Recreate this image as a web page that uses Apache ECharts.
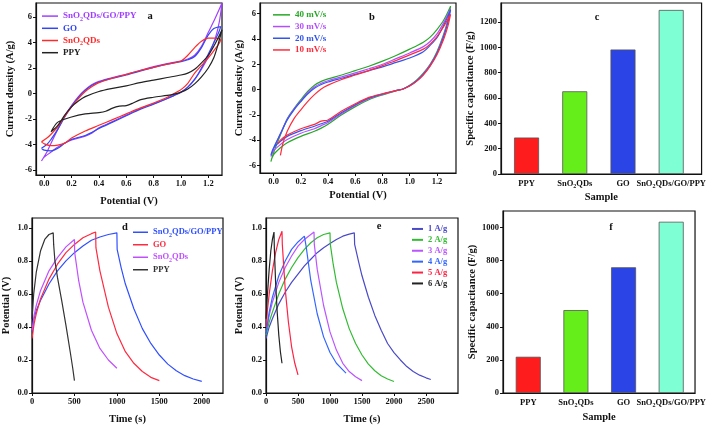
<!DOCTYPE html>
<html><head><meta charset="utf-8">
<script src="https://cdn.jsdelivr.net/npm/echarts@6/dist/echarts.min.js"></script>
<style>html,body{margin:0;padding:0;background:#fff}#c{width:709px;height:427px}</style>
</head><body><div id="c"></div><script>
const FONT = '"Liberation Serif","Times New Roman",serif';

// ---------- Panel a: CV of samples, [potential V, current A/g] ----------
const labelsA = ['SnO2QDs/GO/PPY', 'GO', 'SnO2QDs', 'PPY'];
const colorsA = ['#a040ff', '#3347f0', '#ff2a2a', '#222222'];
const cvA_composite = [[-0.02,-5.3],[0.02,-4.6],[0.05,-3.9],[0.1,-2.8],[0.15,-1.75],[0.2,-0.95],[0.25,-0.25],[0.3,0.3],[0.35,0.7],[0.4,0.95],[0.5,1.25],[0.6,1.5],[0.7,1.8],[0.8,2.1],[0.9,2.35],[1.0,2.55],[1.05,2.7],[1.1,3.0],[1.15,3.7],[1.2,4.8],[1.25,5.9],[1.3,7.1],[1.28,5.6],[1.25,4.3],[1.2,2.9],[1.15,1.9],[1.1,1.1],[1.05,0.5],[1.0,0.1],[0.95,-0.15],[0.9,-0.4],[0.8,-0.8],[0.7,-1.2],[0.6,-1.7],[0.5,-2.2],[0.4,-2.7],[0.35,-3.1],[0.3,-3.35],[0.2,-3.65],[0.1,-4.2],[0.05,-4.6],[0.0,-5.0],[-0.02,-5.3]];
const cvA_GO = [[-0.02,-4.3],[0.02,-4.0],[0.05,-3.6],[0.1,-2.8],[0.15,-1.85],[0.2,-1.0],[0.25,-0.3],[0.3,0.25],[0.35,0.65],[0.4,0.9],[0.5,1.2],[0.6,1.45],[0.7,1.75],[0.8,2.05],[0.9,2.3],[1.0,2.5],[1.05,2.65],[1.1,2.9],[1.15,3.6],[1.2,4.6],[1.24,5.1],[1.29,5.25],[1.28,4.9],[1.25,4.2],[1.2,3.1],[1.15,2.0],[1.1,1.1],[1.05,0.5],[1.0,0.1],[0.95,-0.15],[0.9,-0.4],[0.8,-0.85],[0.7,-1.25],[0.6,-1.75],[0.5,-2.25],[0.4,-2.75],[0.35,-3.05],[0.3,-3.3],[0.2,-3.6],[0.15,-3.9],[0.1,-4.3],[0.05,-4.5],[0.0,-4.45],[-0.02,-4.3]];
const cvA_SnO2 = [[-0.02,-3.8],[0.02,-3.5],[0.05,-3.2],[0.1,-2.6],[0.15,-1.8],[0.2,-1.05],[0.25,-0.4],[0.3,0.15],[0.35,0.55],[0.4,0.85],[0.5,1.2],[0.6,1.5],[0.7,1.8],[0.8,2.05],[0.9,2.3],[1.0,2.55],[1.05,3.0],[1.1,3.6],[1.15,4.1],[1.2,4.35],[1.25,4.35],[1.29,4.2],[1.25,3.5],[1.2,2.8],[1.15,2.2],[1.1,1.6],[1.05,0.8],[1.0,0.3],[0.95,0.0],[0.9,-0.3],[0.8,-0.75],[0.7,-1.15],[0.6,-1.6],[0.5,-2.05],[0.4,-2.5],[0.3,-2.95],[0.2,-3.5],[0.15,-3.9],[0.1,-4.05],[0.05,-4.1],[0.0,-3.95],[-0.02,-3.8]];
const cvA_PPY = [[0.05,-3.0],[0.1,-2.5],[0.15,-1.7],[0.2,-1.05],[0.25,-0.6],[0.3,-0.25],[0.4,0.15],[0.5,0.4],[0.6,0.6],[0.7,0.85],[0.8,1.05],[0.9,1.25],[1.0,1.45],[1.05,1.6],[1.1,1.9],[1.15,2.4],[1.2,3.0],[1.25,3.9],[1.3,5.0],[1.27,3.8],[1.24,2.8],[1.2,2.0],[1.15,1.3],[1.1,0.75],[1.05,0.35],[1.0,0.1],[0.95,-0.05],[0.9,-0.15],[0.8,-0.3],[0.7,-0.5],[0.65,-0.75],[0.6,-0.95],[0.55,-1.0],[0.5,-1.15],[0.45,-1.4],[0.4,-1.5],[0.3,-1.6],[0.2,-1.85],[0.1,-2.25],[0.05,-3.0]];

// ---------- Panel b: CV at scan rates ----------
const labelsB = ['40 mV/s', '30 mV/s', '20 mV/s', '10 mV/s'];
const colorsB = ['#27a827', '#b34dff', '#3355ee', '#ff2a3a'];
const cvB_40 = [[-0.02,-5.7],[0.0,-5.0],[0.05,-3.6],[0.1,-2.3],[0.15,-1.5],[0.2,-0.8],[0.25,-0.15],[0.3,0.35],[0.35,0.65],[0.4,0.85],[0.5,1.15],[0.6,1.5],[0.7,1.85],[0.8,2.25],[0.9,2.7],[1.0,3.2],[1.1,3.75],[1.15,4.15],[1.2,4.75],[1.25,5.5],[1.3,6.6],[1.28,5.5],[1.25,4.4],[1.2,3.0],[1.15,2.0],[1.1,1.3],[1.05,0.75],[1.0,0.35],[0.95,0.05],[0.9,-0.1],[0.8,-0.42],[0.7,-0.8],[0.6,-1.35],[0.5,-2.0],[0.4,-2.75],[0.35,-3.05],[0.3,-3.3],[0.2,-3.7],[0.1,-4.2],[0.05,-4.6],[0.0,-5.15],[-0.02,-5.7]];
const cvB_30 = [[-0.02,-5.3],[0.0,-4.7],[0.05,-3.5],[0.1,-2.35],[0.15,-1.55],[0.2,-0.9],[0.25,-0.25],[0.3,0.2],[0.35,0.5],[0.4,0.7],[0.5,1.0],[0.6,1.32],[0.7,1.65],[0.8,2.0],[0.9,2.45],[1.0,2.9],[1.1,3.4],[1.15,3.8],[1.2,4.4],[1.25,5.3],[1.3,6.4],[1.28,5.4],[1.25,4.3],[1.2,2.9],[1.15,1.95],[1.1,1.25],[1.05,0.7],[1.0,0.32],[0.95,0.05],[0.9,-0.08],[0.8,-0.38],[0.7,-0.72],[0.6,-1.25],[0.5,-1.9],[0.4,-2.6],[0.35,-2.85],[0.3,-3.1],[0.2,-3.45],[0.1,-3.95],[0.05,-4.35],[0.0,-4.85],[-0.02,-5.3]];
const cvB_20 = [[-0.02,-5.2],[0.0,-4.6],[0.05,-3.5],[0.1,-2.4],[0.15,-1.6],[0.2,-0.95],[0.25,-0.35],[0.3,0.1],[0.35,0.4],[0.4,0.6],[0.5,0.9],[0.6,1.2],[0.7,1.5],[0.8,1.8],[0.9,2.15],[1.0,2.5],[1.1,3.0],[1.15,3.5],[1.2,4.1],[1.25,5.1],[1.3,6.3],[1.28,5.3],[1.25,4.2],[1.2,2.85],[1.15,1.9],[1.1,1.2],[1.05,0.68],[1.0,0.3],[0.95,0.05],[0.9,-0.07],[0.8,-0.35],[0.7,-0.68],[0.6,-1.2],[0.5,-1.82],[0.4,-2.5],[0.35,-2.7],[0.3,-2.9],[0.2,-3.25],[0.1,-3.7],[0.05,-4.1],[0.0,-4.6],[-0.02,-5.2]];
const cvB_10 = [[0.05,-5.2],[0.07,-4.2],[0.1,-3.3],[0.15,-2.3],[0.2,-1.6],[0.25,-0.95],[0.3,-0.4],[0.35,0.05],[0.4,0.35],[0.5,0.8],[0.6,1.15],[0.7,1.5],[0.8,1.9],[0.9,2.3],[1.0,2.75],[1.1,3.2],[1.15,3.6],[1.2,4.2],[1.25,5.0],[1.3,5.95],[1.28,5.0],[1.25,4.0],[1.2,2.75],[1.15,1.85],[1.1,1.15],[1.05,0.65],[1.0,0.28],[0.95,0.03],[0.9,-0.08],[0.8,-0.33],[0.7,-0.62],[0.6,-1.12],[0.5,-1.7],[0.4,-2.4],[0.35,-2.5],[0.3,-2.75],[0.2,-3.1],[0.1,-3.6],[0.05,-4.0],[0.03,-4.3]];

// ---------- Panels c and f: specific capacitance (F/g) ----------
const categories = ['PPY', 'SnO2QDs', 'GO', 'SnO2QDs/GO/PPY'];
const barColors = ['#ff1c1c', '#66ee1a', '#2b44e6', '#7fffd4'];
const capacitanceC = [288, 653, 983, 1295];
const capacitanceF = [219, 501, 760, 1035];

// ---------- Panel d: GCD of samples, [time s, potential V] ----------
const labelsD = ['SnO2QDs/GO/PPY', 'GO', 'SnO2QDs', 'PPY'];
const colorsD = ['#3050ff', '#ff2a40', '#c050ff', '#333333'];
const gcdD_composite = [[0,0.37],[25,0.45],[50,0.5],[100,0.56],[200,0.66],[300,0.74],[400,0.8],[500,0.85],[600,0.89],[700,0.925],[800,0.945],[900,0.96],[1000,0.97],[1003,0.87],[1050,0.76],[1100,0.66],[1200,0.51],[1300,0.39],[1400,0.3],[1500,0.23],[1600,0.175],[1700,0.135],[1800,0.105],[1900,0.085],[2000,0.07]];
const gcdD_GO = [[0,0.33],[25,0.42],[50,0.48],[100,0.57],[200,0.69],[300,0.78],[400,0.85],[500,0.9],[600,0.94],[700,0.965],[750,0.975],[753,0.88],[800,0.74],[900,0.52],[1000,0.36],[1100,0.25],[1200,0.18],[1300,0.13],[1400,0.095],[1500,0.075]];
const gcdD_SnO2 = [[0,0.38],[25,0.47],[50,0.53],[100,0.62],[200,0.74],[300,0.82],[400,0.885],[500,0.93],[503,0.85],[550,0.68],[600,0.55],[700,0.38],[800,0.27],[900,0.2],[1000,0.15]];
const gcdD_PPY = [[0,0.45],[20,0.6],[50,0.73],[100,0.86],[150,0.93],[200,0.96],[250,0.97],[255,0.9],[270,0.8],[300,0.7],[350,0.56],[400,0.41],[450,0.25],[480,0.15],[500,0.075]];

// ---------- Panel e: GCD at current densities ----------
const labelsE = ['1 A/g', '2 A/g', '3 A/g', '4 A/g', '5 A/g', '6 A/g'];
const colorsE = ['#4a4ac8', '#33bb33', '#bb55ff', '#3366ff', '#ff2244', '#222222'];
const gcdE_1 = [[0,0.33],[50,0.4],[100,0.45],[200,0.54],[300,0.61],[400,0.67],[500,0.72],[600,0.77],[700,0.81],[800,0.85],[900,0.88],[1000,0.905],[1100,0.93],[1200,0.95],[1300,0.962],[1380,0.97],[1385,0.9],[1450,0.79],[1500,0.71],[1600,0.58],[1700,0.47],[1800,0.38],[1900,0.3],[2000,0.245],[2100,0.2],[2200,0.16],[2300,0.13],[2400,0.108],[2500,0.092],[2575,0.082]];
const gcdE_2 = [[0,0.35],[50,0.43],[100,0.49],[200,0.6],[300,0.69],[400,0.76],[500,0.82],[600,0.87],[700,0.91],[800,0.94],[900,0.96],[1000,0.97],[1005,0.9],[1050,0.78],[1100,0.67],[1200,0.51],[1300,0.39],[1400,0.3],[1500,0.23],[1600,0.175],[1700,0.135],[1800,0.105],[1900,0.085],[2000,0.07]];
const gcdE_3 = [[0,0.37],[50,0.47],[100,0.55],[200,0.67],[300,0.76],[400,0.83],[500,0.89],[600,0.93],[700,0.96],[750,0.975],[755,0.9],[800,0.75],[900,0.53],[1000,0.37],[1100,0.26],[1200,0.18],[1300,0.13],[1400,0.098],[1500,0.075]];
const gcdE_4 = [[0,0.36],[50,0.49],[100,0.58],[200,0.71],[300,0.8],[400,0.87],[500,0.915],[600,0.95],[625,0.955],[630,0.88],[700,0.68],[800,0.48],[900,0.34],[1000,0.245],[1100,0.18],[1200,0.14],[1250,0.12]];
const gcdE_5 = [[0,0.4],[25,0.51],[50,0.6],[100,0.74],[150,0.85],[200,0.93],[250,0.98],[255,0.9],[300,0.63],[350,0.43],[400,0.28],[450,0.18],[500,0.11]];
const gcdE_6 = [[0,0.45],[15,0.55],[30,0.64],[50,0.75],[75,0.86],[100,0.93],[125,0.975],[130,0.88],[150,0.67],[175,0.49],[200,0.35],[225,0.25],[250,0.18]];

// ---------- Tick values ----------
const ticksCVx = [0, 0.2, 0.4, 0.6, 0.8, 1.0, 1.2];
const ticksCVy = [-6, -4, -2, 0, 2, 4, 6];
const ticksCapC = [0, 200, 400, 600, 800, 1000, 1200];
const ticksCapF = [0, 200, 400, 600, 800, 1000];
const ticksGCDy = [0, 0.2, 0.4, 0.6, 0.8, 1.0];
const ticksTimeD = [0, 500, 1000, 1500, 2000];
const ticksTimeE = [0, 500, 1000, 1500, 2000, 2500];
const ticksCat = [0, 1, 2, 3];

// ---------- helpers ----------
function nameRich(label, k) {
  const parts = label.split('SnO2');
  let out = '';
  parts.forEach((p, i) => {
    if (i > 0) out += '{t' + k + '|SnO}{s' + k + '|2}';
    if (p) out += '{t' + k + '|' + p + '}';
  });
  return out;
}
function richSet(colors, size, lh) {
  const r = {};
  colors.forEach((c, k) => {
    r['t' + k] = {color: c, fontFamily: FONT, fontWeight: 'bold', fontSize: size, lineHeight: lh};
    r['s' + k] = {color: c, fontFamily: FONT, fontWeight: 'bold', fontSize: Math.round(size * 0.65), verticalAlign: 'bottom'};
  });
  return r;
}
const titleStyle = {fontFamily: FONT, fontWeight: 'bold', fontSize: 10.5, color: '#111'};
function valAxis(gi, min, max, ticks, fmt, name, gap, showTick) {
  return {
    type: 'value', gridIndex: gi, min: min, max: max,
    axisLine: {show: true, onZero: false, lineStyle: {color: '#111', width: 1.2}},
    axisTick: {show: showTick !== false, length: 3, customValues: ticks, lineStyle: {color: '#111', width: 1}},
    axisLabel: {customValues: ticks, formatter: fmt, fontFamily: FONT, fontWeight: 'bold', fontSize: 8.5, color: '#111', margin: 4,
      rich: richSet(['#111'], 8.5, 11)},
    splitLine: {show: false},
    name: name, nameLocation: 'middle', nameGap: gap, nameTextStyle: titleStyle
  };
}
function makeLegend(panel, labels, colors, p) {
  const names = labels.map(l => panel + '~' + l);
  return {
    orient: 'vertical', left: p.left, top: p.top, itemWidth: p.iw, itemHeight: p.lw, itemGap: p.gap, padding: 0,
    icon: 'rect',
    data: names, selectedMode: false,
    formatter: name => nameRich(name.split('~')[1], names.indexOf(name)),
    textStyle: {fontFamily: FONT, fontWeight: 'bold', fontSize: p.fs, lineHeight: p.lh, rich: richSet(colors, p.fs, p.lh)}
  };
}
function lineSeries(panel, labels, colors, datasets, gi, smooth) {
  return datasets.map((d, i) => ({
    type: 'line', name: panel + '~' + labels[i], xAxisIndex: gi, yAxisIndex: gi, data: d,
    symbol: 'none', smooth: smooth, lineStyle: {width: 1.2, color: colors[i]}, itemStyle: {color: colors[i]}
  }));
}
function barSeries(vals, gi) {
  return {
    type: 'bar', xAxisIndex: gi, yAxisIndex: gi, barWidth: 25,
    data: vals.map((v, i) => ({value: [i, v], itemStyle: {color: barColors[i]}})),
    itemStyle: {borderColor: '#555', borderWidth: 0.8}
  };
}
const f1 = v => v.toFixed(1);
const f0 = v => String(Math.round(v));
const fCat = v => nameRich(categories[Math.round(v)], 0);

const gridBox = {show: true, borderColor: '#111', borderWidth: 1.2, backgroundColor: 'transparent'};
const option = {
  animation: false,
  backgroundColor: '#fff',
  grid: [
    Object.assign({left: 36, top: 3, width: 186, height: 172}, gridBox),
    Object.assign({left: 260, top: 3, width: 196, height: 170}, gridBox),
    Object.assign({left: 501, top: 3, width: 201, height: 171}, gridBox),
    Object.assign({left: 32, top: 218, width: 191, height: 175}, gridBox),
    Object.assign({left: 266, top: 218, width: 192, height: 175}, gridBox),
    Object.assign({left: 503, top: 211, width: 195, height: 182}, gridBox)
  ],
  xAxis: [
    valAxis(0, -0.06, 1.30, ticksCVx, f1, 'Potential (V)', 21),
    valAxis(1, -0.1, 1.34, ticksCVx, f1, 'Potential (V)', 17),
    valAxis(2, -0.53, 3.63, ticksCat, fCat, 'Sample', 18, false),
    valAxis(3, 0, 2250, ticksTimeD, f0, 'Time (s)', 21),
    valAxis(4, 0, 3000, ticksTimeE, f0, 'Time (s)', 21),
    valAxis(5, -0.53, 3.5, ticksCat, fCat, 'Sample', 19, false)
  ],
  yAxis: [
    valAxis(0, -6.4, 7.1, ticksCVy, f0, 'Current density (A/g)', 20),
    valAxis(1, -6.6, 6.85, ticksCVy, f0, 'Current density (A/g)', 14),
    valAxis(2, 0, 1350, ticksCapC, f0, 'Specific capacitance (F/g)', 20),
    valAxis(3, 0, 1.06, ticksGCDy, f1, 'Potential (V)', 20),
    valAxis(4, 0, 1.06, ticksGCDy, f1, 'Potential (V)', 21),
    valAxis(5, 0, 1100, ticksCapF, f0, 'Specific capacitance (F/g)', 21)
  ],
  legend: [
    makeLegend('a', labelsA, colorsA, {left: 42, top: 10, iw: 16, gap: 0, fs: 9, lh: 12.2, lw: 1.5}),
    makeLegend('b', labelsB, colorsB, {left: 273, top: 9, iw: 17, gap: 0, fs: 9, lh: 11.7, lw: 1.5}),
    makeLegend('d', labelsD, colorsD, {left: 133, top: 226, iw: 15, gap: 0, fs: 8.5, lh: 12.5, lw: 1.5}),
    makeLegend('e', labelsE, colorsE, {left: 412, top: 223.5, iw: 11, gap: 0, fs: 8.5, lh: 10.9, lw: 2})
  ],
  graphic: [
    ['a', 150, 16], ['b', 372, 17], ['c', 597, 17], ['d', 125, 227], ['e', 379, 226], ['f', 611, 227]
  ].map(([t, x, y]) => ({type: 'text', x: x, y: y, style: {text: t, fontFamily: FONT, fontWeight: 'bold', fontSize: 10.5, fill: '#111', align: 'center', verticalAlign: 'middle'}})),
  series: [].concat(
    lineSeries('a', labelsA, colorsA, [cvA_composite, cvA_GO, cvA_SnO2, cvA_PPY], 0, 0.3),
    lineSeries('b', labelsB, colorsB, [cvB_40, cvB_30, cvB_20, cvB_10], 1, 0.3),
    [barSeries(capacitanceC, 2)],
    lineSeries('d', labelsD, colorsD, [gcdD_composite, gcdD_GO, gcdD_SnO2, gcdD_PPY], 3, false),
    lineSeries('e', labelsE, colorsE, [gcdE_1, gcdE_2, gcdE_3, gcdE_4, gcdE_5, gcdE_6], 4, false),
    [barSeries(capacitanceF, 5)]
  )
};
const chart = echarts.init(document.getElementById('c'), null, {renderer: 'canvas'});
chart.setOption(option);
</script></body></html>
